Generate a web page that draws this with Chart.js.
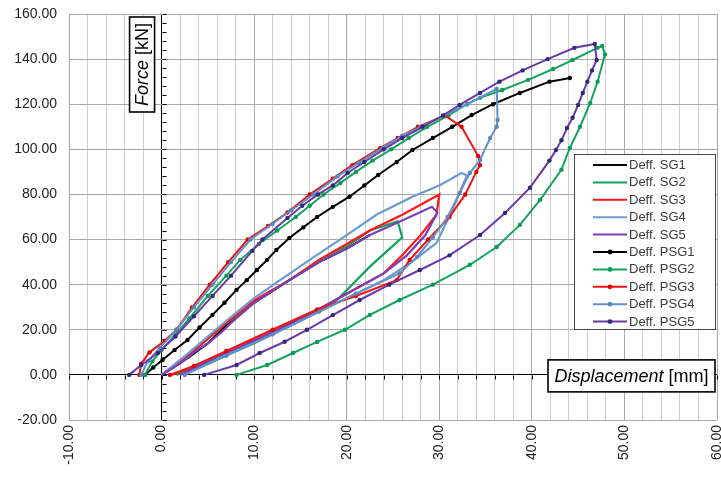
<!DOCTYPE html>
<html><head><meta charset="utf-8">
<script src="https://cdn.jsdelivr.net/npm/chart.js@4.4.1/dist/chart.umd.min.js"></script>
<style>html,body{margin:0;padding:0;background:#fff;}#wrap{width:721px;height:477px;position:relative;}</style>
</head><body><div id="wrap"><canvas id="c" width="721" height="477"></canvas></div>
<script>
// ---------- DATA ----------
const seriesNames = ['Deff. SG1','Deff. SG2','Deff. SG3','Deff. SG4','Deff. SG5','Deff. PSG1','Deff. PSG2','Deff. PSG3','Deff. PSG4','Deff. PSG5'];

// SG series (inner cycles, no markers)
const sg1X = [0, 3, 5, 7, 10, 13.8, 17, 20, 22.5];
const sg1Y = [0, 8, 14, 22, 32, 42, 50, 56, 62];

const sg2X = [0, 3, 5, 7, 10, 13.8, 17, 20, 22.5, 25.5, 26, 22.5, 18.9, 15, 10, 5, 1.6];
const sg2Y = [0, 9, 16, 23, 32, 42, 50, 57, 64, 68, 61, 48, 33, 24, 14, 5, 0];

const sg3X = [0, 3, 7, 10, 13.8, 17, 20, 22.5, 26, 30, 29.7, 28, 26, 24, 20, 17, 12, 7, 3, 1.1];
const sg3Y = [0, 9, 23, 33, 42, 51, 58, 64, 71, 80, 71, 62, 53, 45, 36, 29, 20, 10, 3, 0];

const sg4X = [0, 3, 7, 10, 12.8, 16, 20, 23.2, 27.1, 30, 32.4, 33, 31.4, 29.7, 27, 24, 20, 15, 10, 5, 2.5];
const sg4Y = [0, 10, 24, 34, 42, 51, 62, 71, 79, 84, 89.5, 88.5, 73, 58.5, 50, 42, 34, 24, 15, 6, 0];

const sg5X = [0, 2, 3.5, 5, 6.5, 7.5, 10, 13.8, 17, 20, 22.5, 26, 29.2, 29.8, 28.5, 26.5, 24, 20, 16, 11, 6, 3, 2];
const sg5Y = [0, 5, 10, 14, 19, 23, 32, 42, 50, 56, 62, 68.5, 74.5, 72, 62, 53, 45, 36, 27, 17, 8, 2, 0];

// PSG series (full cycles, with markers)
const psg1X = [-1.8, -0.9, 0.1, 1.4, 2.8, 4.1, 5.5, 6.8, 8.1, 9.2, 10.3, 11.4, 12.4, 13.8, 15.3, 16.8, 18.5, 20.3, 21.9, 23.4, 25.4, 27.1, 29.3, 31.4, 33.5, 35.8, 38.7, 41.9, 44.1];
const psg1Y = [0, 3.3, 6.6, 11, 15.5, 21, 26.6, 32, 37.7, 42, 46.5, 51, 55.4, 60.7, 65.4, 70, 74.5, 79, 84, 88.6, 94.4, 99.7, 105, 110, 115.2, 120, 125, 130, 131.6];

const psg2X = [-1.8, -1, 0, 1.5, 3, 5, 7, 8.5, 10.5, 12.5, 14.5, 16, 17.5, 19.3, 21, 22.8, 24.8, 26.7, 28.7, 31, 33, 34.4, 36.8, 39.6, 42.3, 44.4, 47.1, 47.6, 47.9, 47.1, 46.3, 45.2, 44.1, 43.2, 40.9, 38.7, 36.2, 33.3, 29.3, 25.7, 22.5, 19.8, 16.8, 14.2, 11.4, 8.1];
const psg2Y = [0, 6, 11, 18, 25, 35, 44, 51, 58, 64, 70, 75, 80, 85, 90, 95, 100, 105, 110, 115, 120, 122.8, 126.3, 130.8, 135.6, 139.6, 145, 145.8, 142, 130, 120.5, 110, 100.6, 91, 77.6, 66.5, 56.7, 48.8, 40, 33.2, 26.6, 20, 14.6, 9.7, 4.4, 0];

const psg3X = [-2.4, -2.2, -1.3, 0.3, 1.6, 3.3, 5.2, 7.2, 9.3, 11.5, 13.6, 16, 18.5, 20.6, 23.6, 25.5, 27.7, 30.6, 32.4, 34.2, 34.4, 34, 32.8, 31.1, 28.8, 26.8, 25.4, 21, 16.8, 12, 7, 3.5, 0.9];
const psg3Y = [0, 5, 10, 15, 20, 30, 40, 50, 60, 66, 72, 80, 87, 93, 100.5, 105, 110, 115, 110, 97, 93, 90, 80, 70, 60, 51, 42, 35, 29, 20, 10.6, 4, 0];

const psg4X = [-2.2, -1.5, -0.2, 1.6, 3.5, 5.5, 7.5, 9.6, 12, 14, 16.4, 19, 21.3, 24, 26, 28, 30.5, 33, 36.2, 36.3, 36.2, 35.5, 34.4, 33.3, 32.2, 30.9, 29.3, 27.6, 25.7, 21, 17, 12, 7, 2.5];
const psg4Y = [0, 6, 12, 20, 30, 40, 50, 60, 67, 73, 80, 88, 94, 101, 106, 110, 115, 120, 126.8, 113, 110, 105, 95.3, 89.5, 80.7, 70, 61, 52.3, 45, 36, 28, 18, 8.5, 0];

const psg5X = [-3.5, -2.2, -0.4, 1.5, 3.5, 5.5, 7.5, 9.8, 10.9, 13.6, 15.2, 16.9, 18.5, 20.1, 21.9, 24, 26, 28.2, 30.4, 32.2, 34.4, 36.5, 39, 41.7, 44.6, 46.8, 47, 46.5, 46, 45.5, 45, 44.4, 43.8, 43.2, 42.6, 41.9, 39.8, 37.1, 34.4, 31.1, 27.9, 24.6, 21.4, 18.5, 15.7, 13.3, 10.6, 8.1, 4.6];
const psg5Y = [0, 4.4, 9.7, 17, 26, 35, 44, 55, 60, 69.6, 75, 80, 84, 89.5, 94.4, 100, 105, 110, 115, 119.7, 125, 130, 135, 140, 145, 146.7, 139.6, 135, 130, 125, 119.7, 114, 109.5, 104, 99.7, 95, 83, 71.8, 62, 53, 46.5, 40, 33.2, 26.5, 20, 14.7, 9.7, 4.4, 0];

const xTickLabels = [-10, 0, 10, 20, 30, 40, 50, 60];
const yTickLabels = [-20, 0, 20, 40, 60, 80, 100, 120, 140, 160];

// ---------- STYLE ----------
const colors = ['#000000', '#10a35a', '#ff1616', '#6c9bd4', '#7b3fb8', '#000000', '#14a55c', '#f01414', '#6390c6', '#6a38aa'];
const markerColors = ['#000', '#0d9a52', '#e00000', '#5a86bb', '#2e2a7a'];
const FONT = '"Liberation Sans", Arial, sans-serif';

function pts(xs, ys) { return xs.map((v, i) => ({ x: v, y: ys[i] })); }
const xs = [sg1X, sg2X, sg3X, sg4X, sg5X, psg1X, psg2X, psg3X, psg4X, psg5X];
const ys = [sg1Y, sg2Y, sg3Y, sg4Y, sg5Y, psg1Y, psg2Y, psg3Y, psg4Y, psg5Y];

const datasets = seriesNames.map((name, i) => {
  const psg = i >= 5;
  return {
    label: name,
    data: pts(xs[i], ys[i]),
    showLine: true,
    borderColor: colors[i],
    backgroundColor: psg ? markerColors[i - 5] : colors[i],
    borderWidth: psg ? 2 : 2.2,
    pointRadius: psg ? 2.2 : 0,
    pointBorderWidth: 0,
    pointBackgroundColor: psg ? markerColors[i - 5] : colors[i],
    tension: 0,
    order: 10 - i
  };
});

const decor = {
  id: 'decor',
  beforeDatasetsDraw(chart) {
    const { ctx, scales: { x, y } } = chart;
    ctx.save();
    ctx.strokeStyle = '#000';
    ctx.lineWidth = 1;
    const x0 = Math.round(x.getPixelForValue(0)) + 0.5;
    const y0 = Math.round(y.getPixelForValue(0)) + 0.5;
    ctx.beginPath();
    for (let v = -20; v <= 160; v += 4) {
      const py = Math.round(y.getPixelForValue(v)) + 0.5;
      ctx.moveTo(x0, py); ctx.lineTo(x0 + 4, py);
    }
    for (let v = -10; v <= 60; v += 2) {
      const px = Math.round(x.getPixelForValue(v)) + 0.5;
      ctx.moveTo(px, y0); ctx.lineTo(px, y0 + 4);
    }
    ctx.stroke();
    ctx.restore();
  },
  afterDraw(chart) {
    const { ctx, chartArea, scales: { x, y } } = chart;
    ctx.save();
    // Force [kN] box
    {
      const right = x.getPixelForValue(0) - 7;
      const top = y.getPixelForValue(160) + 3;
      const w = 25, h = 95;
      ctx.fillStyle = '#fff';
      ctx.fillRect(right - w, top, w, h);
      ctx.strokeStyle = '#000'; ctx.lineWidth = 1.6;
      ctx.strokeRect(right - w, top, w, h);
      ctx.save();
      ctx.translate(right - w / 2 + 1, top + h / 2);
      ctx.rotate(-Math.PI / 2);
      ctx.fillStyle = '#000';
      ctx.textBaseline = 'middle';
      ctx.font = 'italic 18px ' + FONT;
      const a = 'Force';
      ctx.font = '18px ' + FONT;
      const b = ' [kN]';
      const wb = ctx.measureText(b).width;
      ctx.font = 'italic 18px ' + FONT;
      const wa = ctx.measureText(a).width;
      const start = -(wa + wb) / 2;
      ctx.textAlign = 'left';
      ctx.fillText(a, start, 0);
      ctx.font = '18px ' + FONT;
      ctx.fillText(b, start + wa, 0);
      ctx.restore();
    }
    // Displacement [mm] box
    {
      const right = chartArea.right - 2;
      const w = 167, h = 32;
      const top = y.getPixelForValue(0) - 15;
      ctx.fillStyle = '#fff';
      ctx.fillRect(right - w, top, w, h);
      ctx.strokeStyle = '#000'; ctx.lineWidth = 1.6;
      ctx.strokeRect(right - w, top, w, h);
      ctx.fillStyle = '#000';
      ctx.textBaseline = 'middle';
      ctx.textAlign = 'left';
      ctx.font = 'italic 18px ' + FONT;
      const a = 'Displacement';
      const wa = ctx.measureText(a).width;
      ctx.font = '18px ' + FONT;
      const b = ' [mm]';
      const wb = ctx.measureText(b).width;
      const start = right - w / 2 - (wa + wb) / 2;
      ctx.font = 'italic 18px ' + FONT;
      ctx.fillText(a, start, top + h / 2 + 1);
      ctx.font = '18px ' + FONT;
      ctx.fillText(b, start + wa, top + h / 2 + 1);
    }
    // Legend
    {
      const lw = 141, lh = 175;
      const left = chartArea.right - 143;
      const top = 154;
      ctx.fillStyle = '#fff';
      ctx.fillRect(left, top, lw, lh);
      ctx.strokeStyle = '#444'; ctx.lineWidth = 1;
      ctx.strokeRect(left + 0.5, top + 0.5, lw, lh);
      ctx.font = '13px ' + FONT;
      ctx.textBaseline = 'middle';
      ctx.textAlign = 'left';
      chart.data.datasets.forEach((ds, i) => {
        const ry = top + 11 + i * 17.4;
        ctx.strokeStyle = ds.borderColor;
        ctx.lineWidth = 2;
        ctx.beginPath();
        ctx.moveTo(left + 19, ry); ctx.lineTo(left + 53, ry);
        ctx.stroke();
        if (ds.pointRadius > 0) {
          ctx.fillStyle = ds.pointBackgroundColor;
          ctx.beginPath(); ctx.arc(left + 36, ry, 2.4, 0, Math.PI * 2); ctx.fill();
        }
        ctx.fillStyle = '#3a3a3a';
        ctx.fillText(ds.label, left + 55, ry + 0.5);
      });
    }
    ctx.restore();
  }
};

new Chart(document.getElementById('c'), {
  type: 'scatter',
  data: { datasets },
  options: {
    responsive: false,
    animation: false,
    devicePixelRatio: 1,
    layout: { padding: { top: 14, right: 4, left: 0, bottom: 0 } },
    plugins: { legend: { display: false }, tooltip: { enabled: false } },
    scales: {
      x: {
        type: 'linear', min: -10, max: 60,
        ticks: {
          stepSize: 2, autoSkip: false, minRotation: 90, maxRotation: 90, padding: 5,
          color: '#222', font: { family: FONT, size: 14 },
          callback: v => xTickLabels.includes(v) ? v.toFixed(2) : ''
        },
        grid: {
          drawTicks: false,
          color: c => c.tick.value === 0 ? '#000' : (c.tick.value % 10 === 0 ? '#a8a8a8' : '#cfcfcf'),
          lineWidth: 1
        },
        border: { display: false },
        afterFit(s) { s.height = 57; s.paddingLeft = 0; s.paddingRight = 0; }
      },
      y: {
        type: 'linear', min: -20, max: 160,
        ticks: {
          stepSize: 20, padding: 12, color: '#222', font: { family: FONT, size: 14 },
          callback: v => yTickLabels.includes(v) ? v.toFixed(2) : ''
        },
        grid: {
          drawTicks: false,
          color: c => c.tick.value === 0 ? '#000' : '#a8a8a8',
          lineWidth: 1
        },
        border: { display: false },
        afterFit(s) { s.width = 69; s.paddingTop = 0; s.paddingBottom = 0; }
      }
    }
  },
  plugins: [decor]
});
</script>
</body></html>
